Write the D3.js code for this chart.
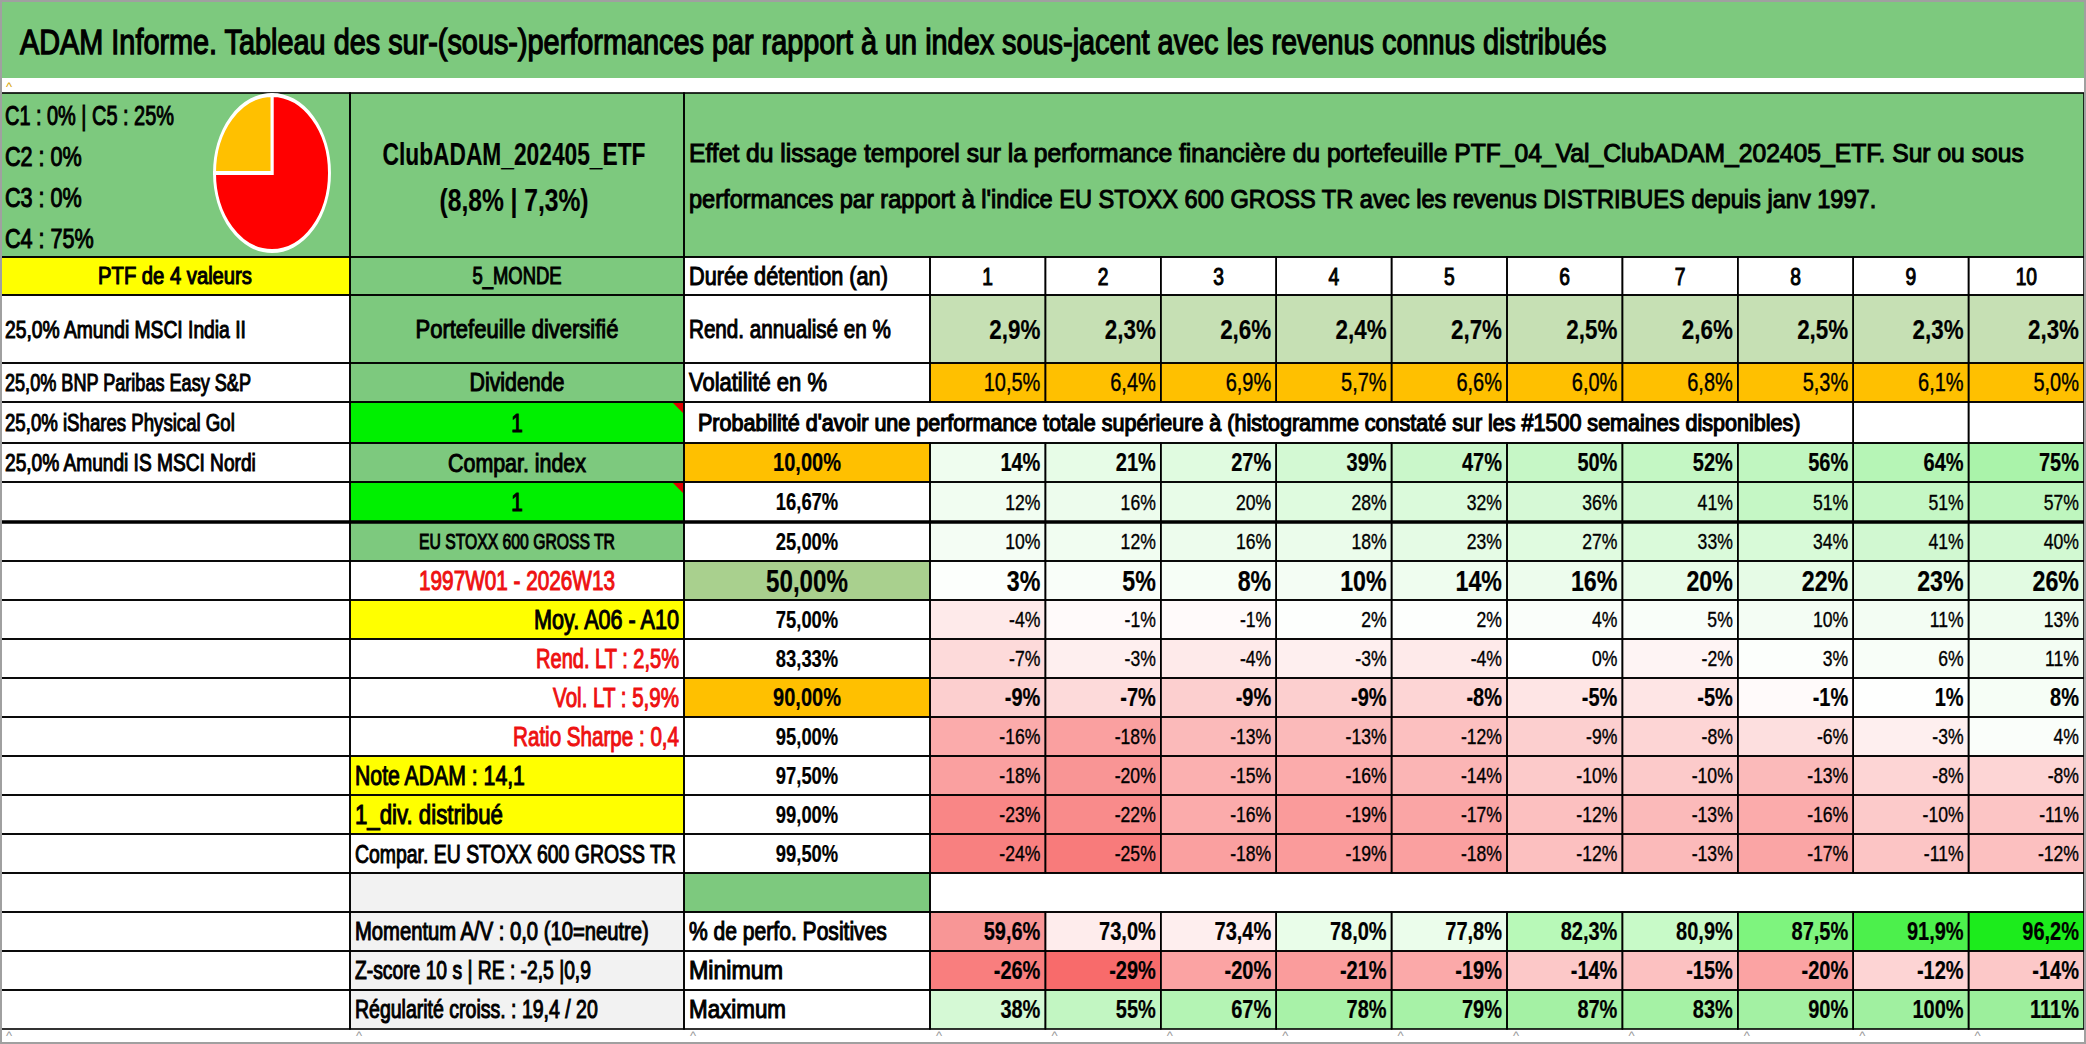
<!DOCTYPE html>
<html>
<head>
<meta charset="utf-8">
<script src="https://cdn.jsdelivr.net/npm/d3@7/dist/d3.min.js"></script>
<style>
  body { margin: 0; background: #fff; }
  svg { display: block; }
  text { font-family: "Liberation Sans", Arial, sans-serif; }
</style>
</head>
<body>
<svg id="chart"></svg>
<script>
// ---- data read from the sheet ----
const title = "ADAM Informe. Tableau des sur-(sous-)performances par rapport à un index sous-jacent avec les revenus connus distribués";
const classLines = ["C1 : 0% | C5 : 25%", "C2 : 0%", "C3 : 0%", "C4 : 75%"];
const pieLabels = ["C1", "C2", "C3", "C4", "C5"];
const pieShares = [0, 0, 0, 75, 25];
const fundName = ["ClubADAM_202405_ETF", "(8,8% | 7,3%)"];
const headerLines = [
  "Effet du lissage temporel sur la performance financière du portefeuille PTF_04_Val_ClubADAM_202405_ETF. Sur ou sous",
  "performances par rapport à l'indice EU STOXX 600 GROSS TR avec les revenus DISTRIBUES depuis janv 1997."
];
const ptfLabel = "PTF de 4 valeurs";
const holdings = [
  "25,0% Amundi MSCI India II",
  "25,0% BNP Paribas Easy S&P",
  "25,0% iShares Physical Gol",
  "25,0% Amundi IS MSCI Nordi"
];
const infoColB = [
  "5_MONDE", "Portefeuille diversifié", "Dividende", "1", "Compar. index", "1",
  "EU STOXX 600 GROSS TR", "1997W01 - 2026W13", "Moy. A06 - A10", "Rend. LT : 2,5%",
  "Vol. LT : 5,9%", "Ratio Sharpe : 0,4", "Note ADAM : 14,1", "1_div. distribué",
  "Compar. EU STOXX 600 GROSS TR", "", "Momentum A/V : 0,0 (10=neutre)",
  "Z-score 10 s | RE : -2,5 |0,9", "Régularité croiss. : 19,4 / 20"
];
const rowLabels = ["Durée détention (an)", "Rend. annualisé en %", "Volatilité en %"];
const years = [1, 2, 3, 4, 5, 6, 7, 8, 9, 10];
const rendAnnual = [2.9, 2.3, 2.6, 2.4, 2.7, 2.5, 2.6, 2.5, 2.3, 2.3];
const volatility = [10.5, 6.4, 6.9, 5.7, 6.6, 6.0, 6.8, 5.3, 6.1, 5.0];
const probTitle = "Probabilité d'avoir une performance totale supérieure à (histogramme constaté sur les #1500 semaines disponibles)";
const percentiles = ["10,00%", "16,67%", "25,00%", "50,00%", "75,00%", "83,33%", "90,00%", "95,00%", "97,50%", "99,00%", "99,50%"];
const p10   = [14, 21, 27, 39, 47, 50, 52, 56, 64, 75];
const p1667 = [12, 16, 20, 28, 32, 36, 41, 51, 51, 57];
const p25   = [10, 12, 16, 18, 23, 27, 33, 34, 41, 40];
const p50   = [3, 5, 8, 10, 14, 16, 20, 22, 23, 26];
const p75   = [-4, -1, -1, 2, 2, 4, 5, 10, 11, 13];
const p8333 = [-7, -3, -4, -3, -4, 0, -2, 3, 6, 11];
const p90   = [-9, -7, -9, -9, -8, -5, -5, -1, 1, 8];
const p95   = [-16, -18, -13, -13, -12, -9, -8, -6, -3, 4];
const p975  = [-18, -20, -15, -16, -14, -10, -10, -13, -8, -8];
const p99   = [-23, -22, -16, -19, -17, -12, -13, -16, -10, -11];
const p995  = [-24, -25, -18, -19, -18, -12, -13, -17, -11, -12];
const statLabels = ["% de perfo. Positives", "Minimum", "Maximum"];
const positives = [59.6, 73.0, 73.4, 78.0, 77.8, 82.3, 80.9, 87.5, 91.9, 96.2];
const minimum = [-26, -29, -20, -21, -19, -14, -15, -20, -12, -14];
const maximum = [38, 55, 67, 78, 79, 87, 83, 90, 100, 111];

const pctRows = [p10, p1667, p25, p50, p75, p8333, p90, p95, p975, p99, p995];

// ---- layout / styles ----
const width = 2086, height = 1044;
const GREEN = "#7dc97e", LIME = "#00f000", YEL = "#ffff00", ORANGE = "#ffc000";
const OLIVE = "#c6e0b4", MID = "#a9d08e", GREY = "#f2f2f2", RED = "#ee1111";
const SQ = 0.8; // horizontal squeeze of the original capture

// target widths of labels measured on the picture
const fitWidth = {
  [title]: 1587, [headerLines[0]]: 1335, [headerLines[1]]: 1188, [probTitle]: 1103,
  "C1 : 0% | C5 : 25%": 169, "ClubADAM_202405_ETF": 263, "(8,8% | 7,3%)": 149,
  "PTF de 4 valeurs": 154, "25,0% Amundi MSCI India II": 241, "25,0% BNP Paribas Easy S&P": 246,
  "25,0% iShares Physical Gol": 230, "25,0% Amundi IS MSCI Nordi": 251,
  "5_MONDE": 89, "Portefeuille diversifié": 203, "Dividende": 95, "Compar. index": 138,
  "EU STOXX 600 GROSS TR": 196, "1997W01 - 2026W13": 196, "Moy. A06 - A10": 145,
  "Rend. LT : 2,5%": 143, "Vol. LT : 5,9%": 126, "Ratio Sharpe : 0,4": 166,
  "Note ADAM : 14,1": 170, "1_div. distribué": 148, "Compar. EU STOXX 600 GROSS TR": 321,
  "Momentum A/V : 0,0 (10=neutre)": 294, "Z-score 10 s | RE : -2,5 |0,9": 236,
  "Régularité croiss. : 19,4 / 20": 243, "Durée détention (an)": 199,
  "Rend. annualisé en %": 202, "Volatilité en %": 138, "% de perfo. Positives": 198,
  "Minimum": 94, "Maximum": 97, "10,00%": 68, "50,00%": 82, "90,00%": 68
};

const rowH = [164, 38, 68, 39, 41, 39, 40, 39, 39, 39, 39, 39, 39, 39, 39, 39, 39, 39, 39, 39];
const rowTop = [93];
rowH.forEach((h, i) => rowTop.push(rowTop[i] + h));

const colA = [0, 350], colB = [350, 684], colC = [684, 930];
const x = d3.scaleBand().domain(years).range([930, 2084]);
const xR = (yr) => x(yr) + x.bandwidth();

const fr = d3.formatLocale({ decimal: ",", thousands: " ", grouping: [3], currency: ["", "€"], minus: "-" });
const f1 = (v) => fr.format(".1f")(v) + "%";
const f0 = (v) => fr.format(".0f")(v) + "%";

const pctAll = pctRows.flat();
const pctColor = d3.scaleLinear().domain([d3.min(pctAll), 0, d3.max(pctAll)])
  .range(["#f87b7b", "#ffffff", "#aaf3aa"]);
const posColor = d3.scaleLinear().domain([d3.min(positives), 76, d3.max(positives)])
  .range(["#f89696", "#ffffff", "#1cec1c"]);
const minColor = d3.scaleLinear().domain([d3.min(minimum), -5]).range(["#f86b6b", "#ffffff"]).clamp(true);
const maxColor = d3.scaleLinear().domain([0, 80, d3.max(maximum)]).range(["#ffffff", "#a6f2a6", "#9cef9c"]);

const svg = d3.select("#chart").attr("width", width).attr("height", height);
const gFill = svg.append("g");
const gLine = svg.append("g");
const gText = svg.append("g");

// weight: "normal" | "semi" (regular + outline, Calibri-like) | "bold"
function addText(t) {
  const col = t.color || "#000";
  const node = gText.append("text")
    .attr("text-anchor", t.anchor || "start")
    .attr("font-size", t.size)
    .attr("font-weight", t.weight === "bold" ? "bold" : "normal")
    .attr("fill", col)
    .attr("stroke", col)
    .attr("stroke-width", t.weight === "semi" ? (t.sw || 1.05) : t.weight === "bold" ? 0.2 : 0.35)
    .text(t.text);
  const w = node.node().getComputedTextLength();
  const target = t.width || fitWidth[t.text] || w * SQ;
  const sx = w > 0 ? target / w : 1;
  node.attr("transform", `translate(${t.x},${t.y}) scale(${sx},1)`);
  return node;
}

// cell helper: fill + border + optional text
const cells = [];
function cell(x0, x1, r0, r1, o) {
  cells.push(Object.assign({ x0, x1, y0: rowTop[r0], y1: rowTop[r1 + 1] }, o));
}

// ---- title band ----
gFill.append("rect").attr("x", 0).attr("y", 0).attr("width", width).attr("height", 78).attr("fill", GREEN);
addText({ x: 20, y: 54, text: title, size: 35, weight: "semi", sw: 1.3 });

// ---- header block ----
cell(colA[0], colA[1], 0, 0, { fill: GREEN });
cell(colB[0], colB[1], 0, 0, { fill: GREEN });
cell(colC[0], 2084, 0, 0, { fill: GREEN });

// column A
cell(colA[0], colA[1], 1, 1, { fill: YEL, text: ptfLabel, align: "middle", size: 23, weight: "semi" });
holdings.forEach((h, i) => cell(colA[0], colA[1], 2 + i, 2 + i, { fill: "#fff", text: h, align: "start", size: 24, weight: "semi" }));
for (let r = 6; r <= 19; r++) cell(colA[0], colA[1], r, r, { fill: "#fff" });

// column B
const colBStyle = [
  { fill: GREEN, align: "middle", size: 23 },
  { fill: GREEN, align: "middle", size: 26 },
  { fill: GREEN, align: "middle", size: 25 },
  { fill: LIME, align: "middle", size: 26, flag: true },
  { fill: GREEN, align: "middle", size: 26 },
  { fill: LIME, align: "middle", size: 26, flag: true },
  { fill: GREEN, align: "middle", size: 22 },
  { fill: "#fff", align: "middle", size: 27, color: RED },
  { fill: YEL, align: "end", size: 27 },
  { fill: "#fff", align: "end", size: 27, color: RED },
  { fill: "#fff", align: "end", size: 27, color: RED },
  { fill: "#fff", align: "end", size: 27, color: RED },
  { fill: YEL, align: "start", size: 27 },
  { fill: YEL, align: "start", size: 27 },
  { fill: "#fff", align: "start", size: 26 },
  { fill: GREY },
  { fill: GREY, align: "start", size: 25 },
  { fill: GREY, align: "start", size: 25 },
  { fill: GREY, align: "start", size: 25 }
];
infoColB.forEach((t, i) => cell(colB[0], colB[1], i + 1, i + 1, Object.assign({ text: t, weight: "semi" }, colBStyle[i])));

// column C labels
rowLabels.forEach((t, i) => cell(colC[0], colC[1], i + 1, i + 1, { fill: "#fff", text: t, align: "start", size: 25, weight: "semi" }));
cell(colC[0], x(9), 4, 4, { fill: "#fff" });
cell(x(9), xR(9), 4, 4, { fill: "#fff" });
cell(x(10), xR(10), 4, 4, { fill: "#fff" });
percentiles.forEach((t, i) => {
  const r = 5 + i;
  const fill = i === 0 || i === 6 ? ORANGE : i === 3 ? MID : "#fff";
  const size = i === 3 ? 32 : i === 0 || i === 6 ? 25 : 23;
  cell(colC[0], colC[1], r, r, { fill, text: t, align: "middle", size, weight: "bold" });
});
cell(colC[0], colC[1], 16, 16, { fill: GREEN });
cell(x(1), xR(10), 16, 16, { fill: "#fff" });
statLabels.forEach((t, i) => cell(colC[0], colC[1], 17 + i, 17 + i, { fill: "#fff", text: t, align: "start", size: 25, weight: "semi" }));

// data columns
years.forEach((yr, j) => {
  const x0 = x(yr), x1 = xR(yr);
  cell(x0, x1, 1, 1, { fill: "#fff", text: String(yr), align: "middle", size: 24, weight: "semi" });
  cell(x0, x1, 2, 2, { fill: OLIVE, text: f1(rendAnnual[j]), align: "end", size: 28, weight: "bold" });
  cell(x0, x1, 3, 3, { fill: ORANGE, text: f1(volatility[j]), align: "end", size: 25 });
  pctRows.forEach((row, i) => {
    const v = row[j];
    const strong = i === 0 || i === 3 || i === 6;
    cell(x0, x1, 5 + i, 5 + i, {
      fill: pctColor(v), text: f0(v), align: "end",
      size: i === 3 ? 29 : strong ? 25 : 22, weight: strong ? "bold" : "normal"
    });
  });
  cell(x0, x1, 17, 17, { fill: posColor(positives[j]), text: f1(positives[j]), align: "end", size: 25, weight: "bold" });
  cell(x0, x1, 18, 18, { fill: minColor(minimum[j]), text: f0(minimum[j]), align: "end", size: 25, weight: "bold" });
  cell(x0, x1, 19, 19, { fill: maxColor(maximum[j]), text: f0(maximum[j]), align: "end", size: 25, weight: "bold" });
});

// draw cells
gFill.selectAll("rect.cell").data(cells).join("rect").attr("class", "cell")
  .attr("x", d => d.x0).attr("y", d => d.y0)
  .attr("width", d => d.x1 - d.x0).attr("height", d => d.y1 - d.y0)
  .attr("fill", d => d.fill);
gLine.selectAll("rect.border").data(cells).join("rect").attr("class", "border")
  .attr("x", d => d.x0).attr("y", d => d.y0)
  .attr("width", d => d.x1 - d.x0).attr("height", d => d.y1 - d.y0)
  .attr("fill", "none").attr("stroke", "#000").attr("stroke-width", 1.6);
// thicker separator under the 16,67% row
gLine.append("line").attr("x1", 0).attr("x2", 2084).attr("y1", rowTop[7]).attr("y2", rowTop[7])
  .attr("stroke", "#000").attr("stroke-width", 3.5);
// comment markers
gLine.selectAll("path.flag").data(cells.filter(d => d.flag)).join("path").attr("class", "flag")
  .attr("d", d => `M${d.x1 - 11},${d.y0 + 1}L${d.x1 - 1},${d.y0 + 1}L${d.x1 - 1},${d.y0 + 11}Z`)
  .attr("fill", "#e00000");

cells.filter(d => d.text).forEach(d => {
  const pad = 5;
  const xx = d.align === "middle" ? (d.x0 + d.x1) / 2 : d.align === "end" ? d.x1 - pad : d.x0 + pad;
  addText({
    x: xx, y: (d.y0 + d.y1) / 2 + 0.355 * d.size, text: d.text,
    anchor: d.align, size: d.size, weight: d.weight, color: d.color
  });
});

// header texts
const capLines = [125, 166, 207, 248];
classLines.forEach((t, i) => addText({ x: 5, y: capLines[i], text: t, size: 27, weight: "semi" }));
addText({ x: 514, y: 165, text: fundName[0], size: 32, anchor: "middle", weight: "bold" });
addText({ x: 514, y: 211, text: fundName[1], size: 31, anchor: "middle", weight: "bold" });
addText({ x: 689, y: 162, text: headerLines[0], size: 26, weight: "semi" });
addText({ x: 689, y: 208, text: headerLines[1], size: 26, weight: "semi" });
addText({ x: 698, y: (rowTop[4] + rowTop[5]) / 2 + 0.355 * 23, text: probTitle, size: 23, weight: "semi", sw: 1.2 });

// pie of the classes (squeezed like the capture)
const pieColors = d3.scaleOrdinal().domain(pieLabels).range(["#00b050", "#92d050", "#ffff00", "#ff0000", "#ffc000"]);
const pie = d3.pie().sort(null).value(d => d.v);
const arc = d3.arc().innerRadius(0).outerRadius(78);
const gPie = svg.append("g").attr("transform", "translate(272,173) scale(0.737,1)");
gPie.selectAll("path").data(pie(pieLabels.map((k, i) => ({ k, v: pieShares[i] }))).filter(d => d.data.v > 0))
  .join("path").attr("d", arc).attr("fill", d => pieColors(d.data.k))
  .attr("stroke", "#fff").attr("stroke-width", 4);

// little sheet markers and frame
const markX = [0, 350, 684].concat(years.map(yr => x(yr)));
gText.selectAll("text.mark").data(markX).join("text").attr("class", "mark")
  .attr("x", d => d + 6).attr("y", 1040).attr("font-size", 13).attr("fill", "#999").text("^");
gText.append("text").attr("x", 6).attr("y", 91).attr("font-size", 13).attr("fill", "#d9a400").text("^");
svg.append("rect").attr("x", 1).attr("y", 1).attr("width", width - 2).attr("height", height - 2)
  .attr("fill", "none").attr("stroke", "#a0a0a0").attr("stroke-width", 2);
</script>
</body>
</html>
